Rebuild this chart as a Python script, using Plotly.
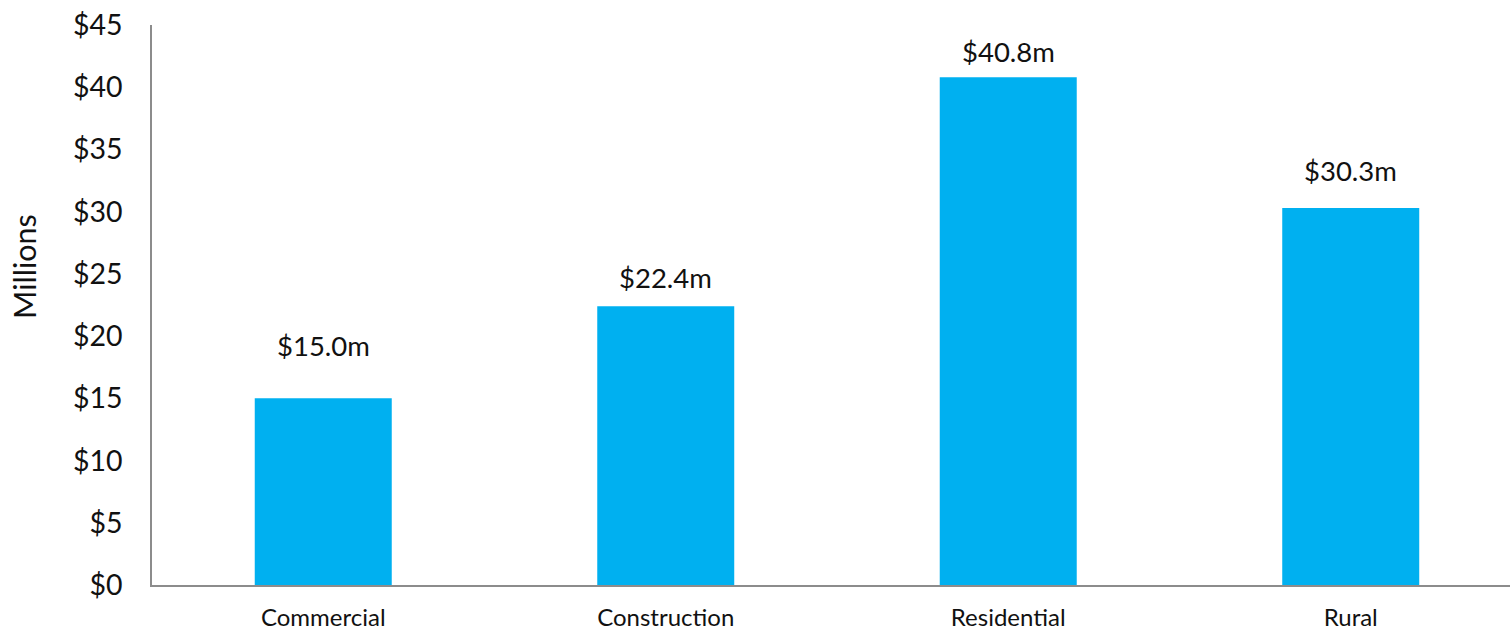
import plotly.graph_objects as go

# Loan book by sector, in millions of dollars
categories = ["Commercial", "Construction", "Residential", "Rural"]
values = [15.0, 22.4, 40.8, 30.3]
value_labels = ["$15.0m", "$22.4m", "$40.8m", "$30.3m"]
y_ticks = [0, 5, 10, 15, 20, 25, 30, 35, 40, 45]
y_tick_labels = ["$0", "$5", "$10", "$15", "$20", "$25", "$30", "$35", "$40", "$45"]

BAR_COLOR = "#00B0F0"
AXIS_COLOR = "#8C8C8C"
FONT = "Lato, 'Open Sans', sans-serif"

# Vertical lift (px) of each value label above its bar
label_lift = [53, 29, 26, 37]

fig = go.Figure(
    go.Bar(
        x=categories,
        y=values,
        width=0.4,
        marker=dict(color=BAR_COLOR, line=dict(width=0)),
        hoverinfo="skip",
    )
)

for cat, val, txt, lift in zip(categories, values, value_labels, label_lift):
    fig.add_annotation(
        x=cat, y=val, text=txt, showarrow=False,
        xanchor="center", yanchor="middle", yshift=lift,
        font=dict(family=FONT, size=27.5, color="#111111"),
    )

fig.add_annotation(
    xref="paper", yref="paper", x=0, y=0.568, xshift=-128,
    text="Millions", textangle=-90, showarrow=False,
    xanchor="center", yanchor="middle",
    font=dict(family=FONT, size=30.5, color="#111111"),
)

fig.update_layout(
    width=1510, height=633,
    margin=dict(l=152, r=0, t=25, b=48),
    plot_bgcolor="white", paper_bgcolor="white",
    showlegend=False,
    font=dict(family=FONT, color="#111111"),
)

fig.update_xaxes(
    range=[-0.5, 3.465],
    automargin=False,
    showline=True, linecolor=AXIS_COLOR, linewidth=1.5,
    showgrid=False, zeroline=False,
    ticks="", ticklabelstandoff=10,
    tickfont=dict(family=FONT, size=24, color="#111111"),
)

fig.update_yaxes(
    range=[0, 45],
    automargin=False,
    tickvals=y_ticks, ticktext=y_tick_labels,
    showline=True, linecolor=AXIS_COLOR, linewidth=1.5,
    showgrid=False, zeroline=False,
    ticks="", ticklabelstandoff=22,
    tickfont=dict(family=FONT, size=28.5, color="#111111"),
)

fig.write_html("out.html")
